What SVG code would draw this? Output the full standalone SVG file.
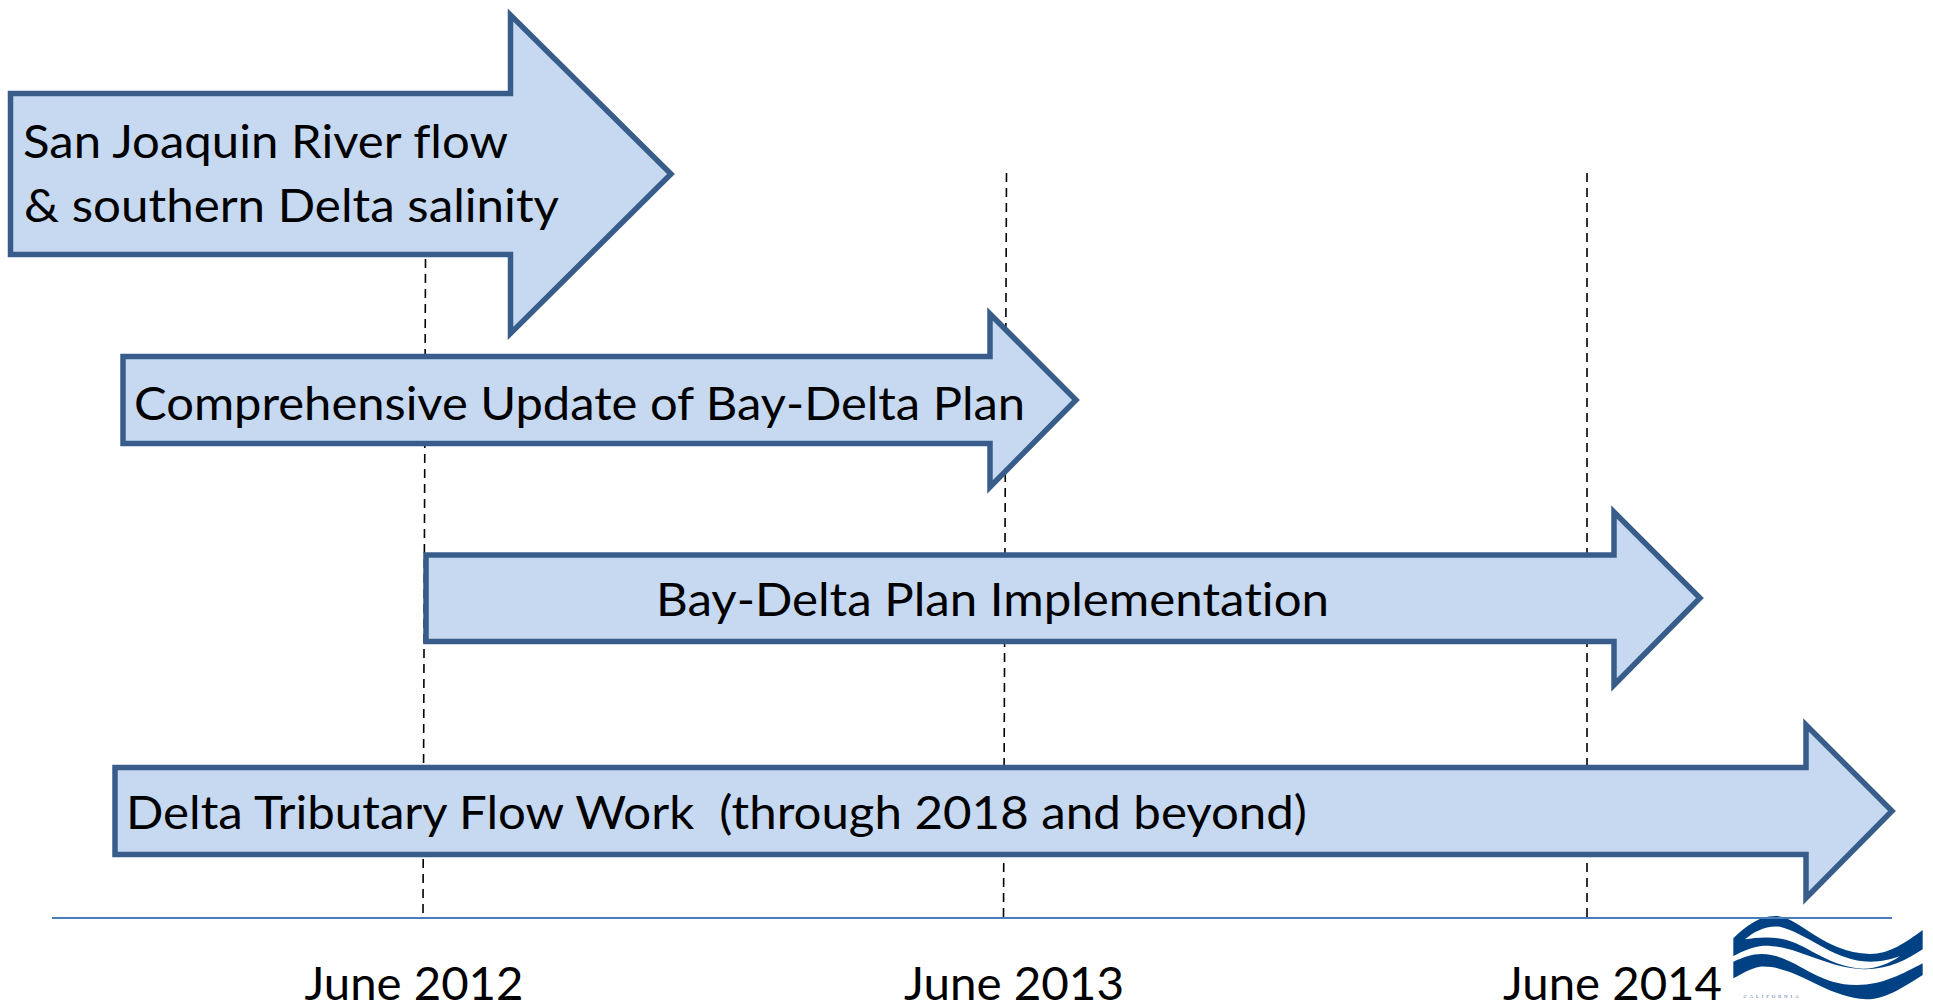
<svg xmlns="http://www.w3.org/2000/svg" width="1933" height="1003" viewBox="0 0 1933 1003">
<style>
.arrow{fill:#c6d9f1;stroke:#385d8a;stroke-width:5.500;stroke-miterlimit:10}
.dash{stroke:#000;stroke-width:1.6;stroke-dasharray:9 6;fill:none}
text{font-family:"Lato","Carlito","Liberation Sans",sans-serif;font-size:46.5px;fill:#000;white-space:pre;font-variant-ligatures:none}
</style>
<rect width="1933" height="1003" fill="#fff"/>
<g id="connectors">
<path class="dash" d="M425.500 259L423 914"/>
<path class="dash" d="M1006.500 173L1003.500 917"/>
<path class="dash" d="M1587 173L1587 918"/>
</g>
<g id="logo" transform="translate(1700 880) scale(.33333)">
<path fill="#004183" fill-rule="evenodd" d="M100 175C140 135 180 108 225 108C300 108 360 215 510 222C570 222 620 185 668 150V208C620 240 560 270 490 268C370 262 290 195 190 197C160 200 130 212 100 228ZM135 178C170 172 215 168 260 180C330 200 390 262 490 266C530 266 570 250 600 228C570 240 530 248 490 244C390 232 320 160 240 140C200 135 160 155 135 178Z"/>
<path fill="#004183" d="M100 245C130 232 155 222 185 222C290 225 340 315 470 315C550 315 610 280 668 250V285C620 315 560 358 500 358C370 350 290 255 180 260C150 265 125 282 100 295Z"/>
</g>
<g id="logo-label"><text x="1743.500" y="998" textLength="57" style="font-family:'Liberation Serif',serif;font-size:5px;fill:#4a6fa5;letter-spacing:2px">CALIFORNIA</text></g>
<g id="node-san-joaquin">
<path class="arrow" d="M10.500 93.500H510.500V15L671 174L510.500 333.500V254.500H10.500Z"/>
<text x="23" y="158" textLength="485" lengthAdjust="spacingAndGlyphs">San Joaquin River flow</text>
<text x="24" y="221.500" textLength="535" lengthAdjust="spacingAndGlyphs">&amp; southern Delta salinity</text>
</g>
<g id="node-comprehensive">
<path class="arrow" d="M123 356.500H990V314L1076 400L990 487V443.500H123Z"/>
<text x="134" y="419.500" textLength="891" lengthAdjust="spacingAndGlyphs">Comprehensive Update of Bay-Delta Plan</text>
</g>
<g id="node-implementation">
<path class="arrow" d="M426 555H1614V512L1700 598L1614 685V641.500H426Z"/>
<text x="656" y="615.500" textLength="673" lengthAdjust="spacingAndGlyphs">Bay-Delta Plan Implementation</text>
</g>
<g id="node-tributary">
<path class="arrow" d="M115 767.500H1806V725L1892 811L1806 898V854.500H115Z"/>
<text x="126" y="828.500" textLength="1181" lengthAdjust="spacingAndGlyphs">Delta Tributary Flow Work  (through 2018 and beyond)</text>
</g>
<g id="axis">
<path d="M52 918H1892" stroke="#4a7ebb" stroke-width="2.200" fill="none"/>
<text x="304.500" y="999.500" textLength="219" lengthAdjust="spacingAndGlyphs">June 2012</text>
<text x="904" y="999.500" textLength="220" lengthAdjust="spacingAndGlyphs">June 2013</text>
<text x="1503" y="999.500" textLength="219" lengthAdjust="spacingAndGlyphs">June 2014</text>
</g>
</svg>
